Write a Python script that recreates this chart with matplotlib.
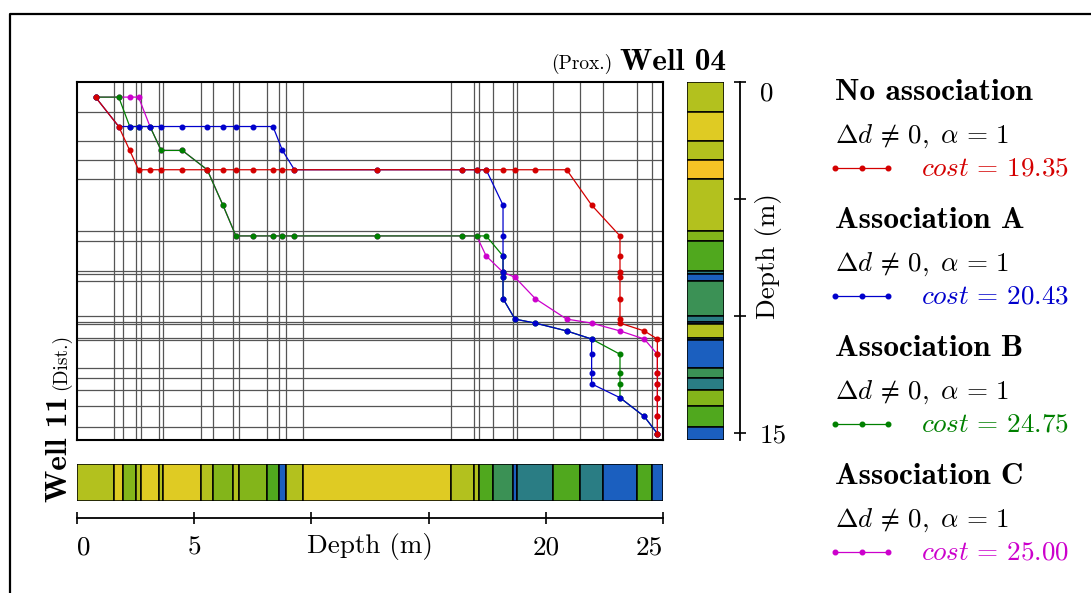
import matplotlib
matplotlib.use('Agg')
import matplotlib.pyplot as plt
from matplotlib.lines import Line2D
import numpy as np

W, H = 1091, 593
plt.rcParams['mathtext.fontset'] = 'cm'
plt.rcParams['font.family'] = 'serif'
plt.rcParams['font.serif'] = ['cmr10']
plt.rcParams['axes.formatter.use_mathtext'] = True

# ---------------- data ----------------
well11_tops = [0, 1.58, 1.98, 2.52, 2.73, 3.50, 3.68, 5.30, 5.81, 6.64, 6.92, 8.09, 8.63,
               8.90, 9.65, 15.94, 16.95, 17.15, 17.76, 18.59, 18.78, 20.32, 21.46, 22.45,
               23.88, 24.52, 25.0]
well11_facies = ['YG', 'Y', 'G1', 'YG', 'Y', 'YG', 'Y', 'YG', 'G1', 'YG', 'G1', 'G2', 'B',
                 'YG', 'Y', 'YG', 'YG', 'G2', 'MG', 'B', 'T', 'G2', 'T', 'B', 'G2', 'B']

well04_tops = [0, 1.29, 2.51, 3.33, 4.16, 6.35, 6.79, 8.06, 8.18, 8.49, 10.0, 10.24, 10.34,
               10.91, 11.03, 12.21, 12.64, 13.13, 13.82, 14.73, 15.28]
well04_facies = ['YG', 'Y', 'YG', 'O', 'YG', 'G1', 'G2', 'T', 'B', 'MG', 'T', 'B', 'YG',
                 'T', 'B', 'MG', 'T', 'G1', 'G2', 'B']

facies_colors = {'YG': '#b3c11e', 'Y': '#dfcb23', 'O': '#f6c325', 'G1': '#83b51a',
                 'G2': '#50a81e', 'MG': '#3b9155', 'T': '#2a7d84', 'B': '#1b5fbf'}

names = ['No association', 'Association A', 'Association B', 'Association C']
costs = [19.35, 20.43, 24.75, 25.00]
colors = ['#d40000', '#0000cc', '#008000', '#cc00cc']

# paths: indices of Well 11 layers (i) and Well 04 layers (j)
red_i = [0, 1, 2, 3, 4, 5, 6, 7, 8, 9, 10, 11, 12, 13, 14, 15, 16, 17, 18, 19, 20, 21, 22,
         23, 23, 23, 23, 23, 23, 23, 24, 25, 25, 25, 25, 25, 25, 25]
red_j = [0, 1, 2, 3, 3, 3, 3, 3, 3, 3, 3, 3, 3, 3, 3, 3, 3, 3, 3, 3, 3, 3, 4,
         5, 6, 7, 8, 9, 10, 11, 12, 13, 14, 15, 16, 17, 18, 19]
blue_i = [0, 1, 2, 3, 4, 5, 6, 7, 8, 9, 10, 11, 12, 13, 14, 15, 16, 17, 18, 18, 18, 18, 18,
          18, 19, 20, 21, 22, 22, 22, 22, 23, 24, 25]
blue_j = [0, 1, 1, 1, 1, 1, 1, 1, 1, 1, 1, 1, 2, 3, 3, 3, 3, 3, 4, 5, 6, 7, 8,
          9, 10, 11, 12, 13, 14, 15, 16, 17, 18, 19]
green_i = [0, 1, 2, 3, 4, 5, 6, 7, 8, 9, 10, 11, 12, 13, 14, 15, 16, 17, 18, 18, 18, 18,
           19, 20, 21, 22, 23, 23, 23, 23, 24, 25]
green_j = [0, 0, 1, 1, 1, 2, 2, 3, 4, 5, 5, 5, 5, 5, 5, 5, 5, 5, 6, 7, 8, 9,
           10, 11, 12, 13, 14, 15, 16, 17, 18, 19]
magenta_i = [0, 1, 2, 3, 4, 5, 6, 7, 8, 9, 10, 11, 12, 13, 14, 15, 16, 17, 18, 19, 20, 21,
             22, 23, 24, 25, 25, 25, 25, 25, 25]
magenta_j = [0, 0, 0, 0, 1, 2, 2, 3, 4, 5, 5, 5, 5, 5, 5, 5, 5, 6, 7, 8, 9, 10,
             11, 12, 13, 14, 15, 16, 17, 18, 19]

paths_i = [red_i, blue_i, green_i, magenta_i]
paths_j = [red_j, blue_j, green_j, magenta_j]

# ---------------- figure ----------------
fig = plt.figure(figsize=(W / 100, H / 100), dpi=100)


def px_rect(x0, y0, x1, y1):
    return [x0 / W, 1 - y1 / H, (x1 - x0) / W, (y1 - y0) / H]


FS = 19.5
FSB = 22.5
t11 = np.array(well11_tops)
t04 = np.array(well04_tops)
xc = (t11[:-1] + t11[1:]) / 2
yc = (t04[:-1] + t04[1:]) / 2

# main correlation panel
ax = fig.add_axes(px_rect(77, 82, 663, 440))
ax.set_xlim(0, t11[-1])
ax.set_ylim(t04[-1], 0)
for b in t11[1:-1]:
    ax.axvline(b, color='#555555', lw=0.9, zorder=1)
for b in t04[1:-1]:
    ax.axhline(b, color='#555555', lw=0.9, zorder=1)
for k in [3, 2, 1, 0]:
    ax.plot(xc[paths_i[k]], yc[paths_j[k]], '-o', color=colors[k], lw=0.9, ms=3.3,
            zorder=3 + (3 - k))
ax.set_xticks([])
ax.set_yticks([])
for s in ax.spines.values():
    s.set_linewidth(1.5)

# Well 04 column
ax04 = fig.add_axes(px_rect(687, 82, 724, 440))
ax04.bar(0.5, np.diff(t04), bottom=t04[:-1], width=1,
         color=[facies_colors[f] for f in well04_facies], edgecolor='black', lw=1.1)
ax04.set_xlim(0, 1)
ax04.set_ylim(t04[-1], 0)
ax04.set_axis_off()

# Well 11 row
ax11 = fig.add_axes(px_rect(77, 464, 663, 501))
ax11.barh(0.5, np.diff(t11), left=t11[:-1], height=1,
          color=[facies_colors[f] for f in well11_facies], edgecolor='black', lw=1.1)
ax11.set_xlim(0, t11[-1])
ax11.set_ylim(0, 1)
ax11.set_axis_off()

# bottom depth axis
axb = fig.add_axes([77 / W, 1 - 518 / H, 586 / W, 0.0001])
axb.set_facecolor('none')
for n, s in axb.spines.items():
    s.set_visible(n == 'bottom')
axb.spines['bottom'].set_linewidth(1.3)
axb.set_xlim(0, 25)
axb.set_xticks([0, 5, 10, 15, 20, 25])
axb.set_xticklabels(['0', '5', '', '', '20', '25'], fontsize=FS)
axb.set_yticks([])
axb.tick_params(axis='x', direction='inout', length=9, width=1.2, pad=8)
xl = axb.get_xticklabels()
xl[0].set_ha('left')
xl[-1].set_ha('right')
fig.text(370 / W, 1 - 553 / H, 'Depth (m)', fontsize=FS, ha='center', va='baseline')

# right depth axis
axr = fig.add_axes([740 / W, 1 - 440 / H, 0.0001, 358 / H])
axr.set_facecolor('none')
for n, s in axr.spines.items():
    s.set_visible(n == 'right')
axr.spines['right'].set_linewidth(1.3)
axr.set_ylim(t04[-1], 0)
axr.yaxis.tick_right()
axr.set_yticks([0, 5, 10, 15])
axr.set_yticklabels(['0', '', '', '15'], fontsize=FS)
axr.set_xticks([])
axr.tick_params(axis='y', direction='inout', length=8, width=1.2, pad=10)
axr.get_yticklabels()[0].set_va('top')
fig.text(768 / W, 1 - 256 / H, 'Depth (m)', fontsize=FS, ha='center', va='center',
         rotation=90)

# well titles
fig.text(726 / W, 1 - 70 / H, 'Well 04', fontsize=FSB, family='cmb10', ha='right',
         va='baseline')
fig.text(612 / W, 1 - 69 / H, '(Prox.)', fontsize=14, ha='right', va='baseline')
fig.text(67 / W, 1 - 502 / H, 'Well 11', fontsize=FSB, family='cmb10', ha='left',
         va='baseline', rotation=90, rotation_mode='anchor')
fig.text(66 / W, 1 - 390 / H, '(Dist.)', fontsize=14, ha='left',
         va='baseline', rotation=90, rotation_mode='anchor')

# legend blocks
for k in range(4):
    yb = 100 + 128 * k
    fig.text(835 / W, 1 - yb / H, names[k], fontsize=FSB, family='cmb10', va='baseline')
    fig.text(835 / W, 1 - (yb + 43) / H, r'$\Delta d \,\neq\, 0,\;\alpha \,=\, 1$',
             fontsize=FS, va='baseline')
    yl = 1 - (yb + 67.5) / H
    fig.add_artist(Line2D([835 / W, 861.5 / W, 888 / W], [yl, yl, yl], color=colors[k],
                          lw=0.9, marker='o', ms=3.3, transform=fig.transFigure))
    fig.text(921 / W, 1 - (yb + 76) / H, r'$cost \,=\, %.2f$' % costs[k], fontsize=FS,
             va='baseline', color=colors[k])

# outer frame
fig.add_artist(Line2D([9.5 / W, 9.5 / W, 1.01], [-0.01, 1 - 14 / H, 1 - 14 / H],
                      color='black', lw=1.6, transform=fig.transFigure))

fig.savefig('out.png', dpi=100)
